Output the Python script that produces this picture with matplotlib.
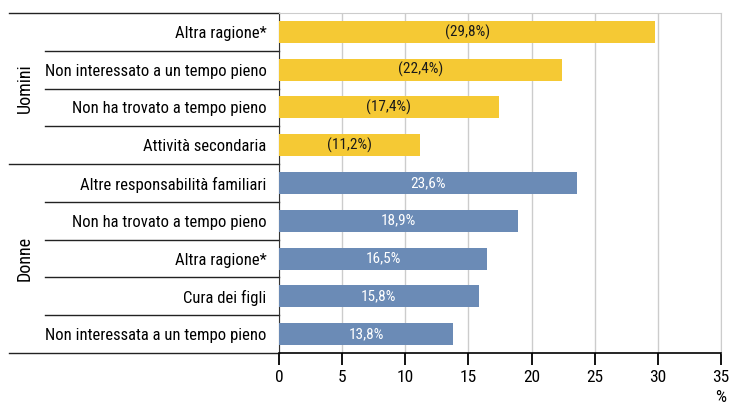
import numpy as np
import matplotlib
matplotlib.use("Agg")
import matplotlib.pyplot as plt

plt.rcParams['font.family'] = ['Roboto Condensed', 'DejaVu Sans']

# dati (valori %)
uomini_labels = ["Altra ragione*", "Non interessato a un tempo pieno",
                 "Non ha trovato a tempo pieno", "Attività secondaria"]
uomini_values = [29.8, 22.4, 17.4, 11.2]
donne_labels = ["Altre responsabilità familiari", "Non ha trovato a tempo pieno",
                "Altra ragione*", "Cura dei figli", "Non interessata a un tempo pieno"]
donne_values = [23.6, 18.9, 16.5, 15.8, 13.8]
group_names = ["Uomini", "Donne"]
xticks = [0, 5, 10, 15, 20, 25, 30, 35]

yellow = "#F5C934"
blue = "#6B8BB6"

labels = uomini_labels + donne_labels
values = uomini_values + donne_values
colors = [yellow] * len(uomini_values) + [blue] * len(donne_values)
n = len(values)
ypos = np.arange(n)

fig = plt.figure(figsize=(7.29, 4.04), dpi=100)
ax = fig.add_axes([0.3827, 0.1262, 0.6063, 0.8416])

ax.barh(ypos, values, height=0.58, color=colors, zorder=3)
ax.set_ylim(n - 0.5, -0.5)
ax.set_xlim(0, 35)

# etichette sulle barre
for i, v in enumerate(values):
    if i < len(uomini_values):
        txt = "(%s%%)" % str(v).replace(".", ",")
        c = "#1a1a1a"
    else:
        txt = "%s%%" % str(v).replace(".", ",")
        c = "white"
    ax.text(v / 2, i, txt, ha="center", va="center", color=c, fontsize=11, zorder=4)

ax.set_yticks(ypos)
ax.set_yticklabels(labels, fontsize=12)
ax.tick_params(axis="y", length=0, pad=9)
ax.set_xticks(xticks)
ax.set_xticklabels([str(t) for t in xticks], fontsize=12.5)
ax.tick_params(axis="x", length=8.5, width=1.3, color="black", pad=4)

ax.grid(axis="x", color="#cccccc", linewidth=1, zorder=0)
for s in ["top", "right"]:
    ax.spines[s].set_color("#cccccc")
ax.spines["left"].set_color("#333333")
ax.spines["bottom"].set_color("black")
ax.spines["bottom"].set_linewidth(1.2)

# linee di separazione a sinistra
tr = ax.get_yaxis_transform()
nu = len(uomini_values)
for b in np.arange(0.5, n - 1, 1.0):
    x0 = -0.61 if b == nu - 0.5 else -0.53
    ax.plot([x0, 0], [b, b], transform=tr, color="#222222", lw=1, clip_on=False)
for b in [-0.5, n - 0.5]:
    ax.plot([-0.61, 0], [b, b], transform=tr, color="#222222", lw=1, clip_on=False)

# nomi dei gruppi
ax.text(-0.575, (nu - 1) / 2, group_names[0], transform=tr, rotation=90,
        ha="center", va="center", fontsize=13)
ax.text(-0.575, nu + (len(donne_values) - 1) / 2, group_names[1], transform=tr,
        rotation=90, ha="center", va="center", fontsize=13)

ax.text(1.0, -0.13, "%", transform=ax.transAxes, ha="center", va="center", fontsize=12.5)

fig.savefig("out.png", dpi=100)
